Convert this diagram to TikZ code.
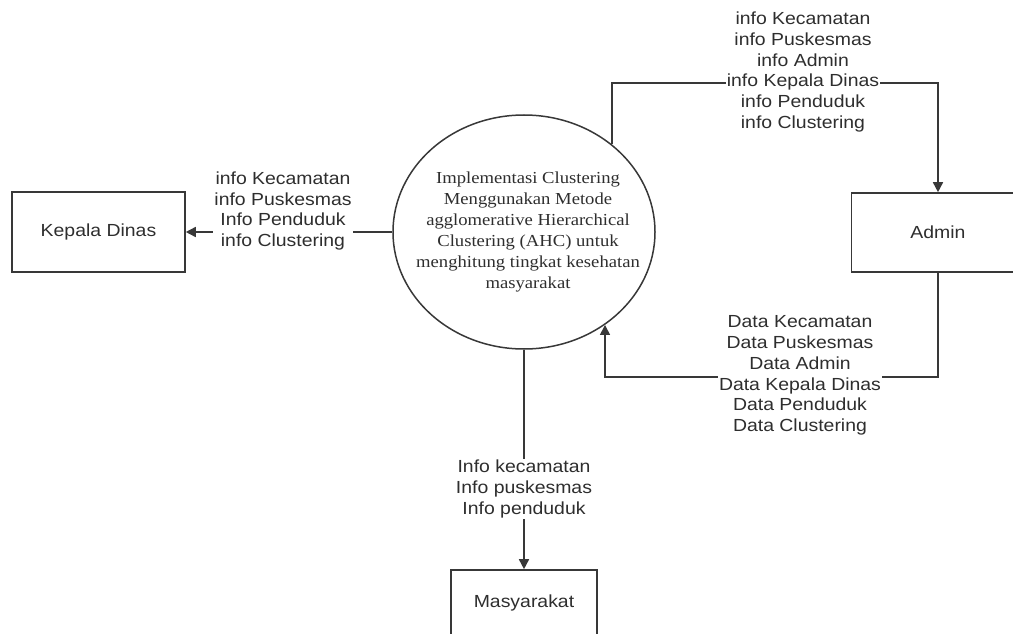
\documentclass[tikz,border=0pt]{standalone}
\usepackage{fontspec}
\setmainfont{Liberation Serif}
\newfontfamily\dfdsans[FakeStretch=1.11]{Liberation Sans}
\newfontfamily\dfdserif[FakeStretch=1.11]{Liberation Serif}
\usetikzlibrary{arrows.meta,shapes.geometric}
\colorlet{dfdline}{black!78}
\tikzset{
  entity/.style={draw=dfdline, line width=1.6pt, minimum width=173pt, minimum height=80pt,
    font=\dfdsans\fontsize{17.5}{20.7}\selectfont, text=black!82},
  process/.style={ellipse, draw=dfdline, line width=1.5pt, minimum width=262pt,
    minimum height=234pt, inner sep=0pt},
  proctext/.style={align=center, font=\dfdserif\fontsize{16.8}{21}\selectfont, text=black!82},
  flowlabel/.style={fill=white, inner sep=1pt, align=center,
    font=\dfdsans\fontsize{17.5}{20.7}\selectfont, text=black!82},
  flow/.style={draw=dfdline, line width=1.6pt, -{Triangle[length=10pt,width=10pt]}}
}

\begin{document}
\begin{tikzpicture}[x=1pt,y=-1pt]
    \useasboundingbox (0,0) rectangle (1013,634);

    % Process
    \node[process] (proc) at (524,232) {};
    \node[proctext] (proctxt) at (528,232) {Implementasi Clustering\\Menggunakan Metode\\agglomerative Hierarchical\\Clustering (AHC) untuk\\menghitung tingkat kesehatan\\masyarakat};

    % External entities
    \node[entity] (kadis) at (98.5,232) {Kepala Dinas};
    \node[entity, minimum height=79pt] (admin) at (938,232.5) {Admin};
    \node[entity, minimum width=146pt, minimum height=66pt] (masy) at (524,603) {Masyarakat};

    % Corner points
    \path (admin.north) ++(0,-109) coordinate (admtop);
    \coordinate (fbcorner) at (605,377);

    % Data flows
    \draw[flow] (proc.west) -- (kadis.east);
    \draw[flow] (proc.45) |- (admtop) -- (admin.north);
    \draw[flow] (admin.south) |- (fbcorner) -- (fbcorner |- proc.-49);
    \draw[flow] (proc.south) -- (masy.north);

    % Flow labels
    \node[flowlabel] (lblkadis) at (283,211) {info Kecamatan\\info Puskesmas\\Info Penduduk\\info Clustering};
    \node[flowlabel] (lbladmin) at (803,72) {info Kecamatan\\info Puskesmas\\info Admin\\info Kepala Dinas\\info Penduduk\\info Clustering};
    \node[flowlabel] (lbldata) at (800,375.5) {Data Kecamatan\\Data Puskesmas\\Data Admin\\Data Kepala Dinas\\Data Penduduk\\Data Clustering};
    \node[flowlabel] (lblmasy) at (524,489) {Info kecamatan\\Info puskesmas\\Info penduduk};
\end{tikzpicture}
\end{document}
